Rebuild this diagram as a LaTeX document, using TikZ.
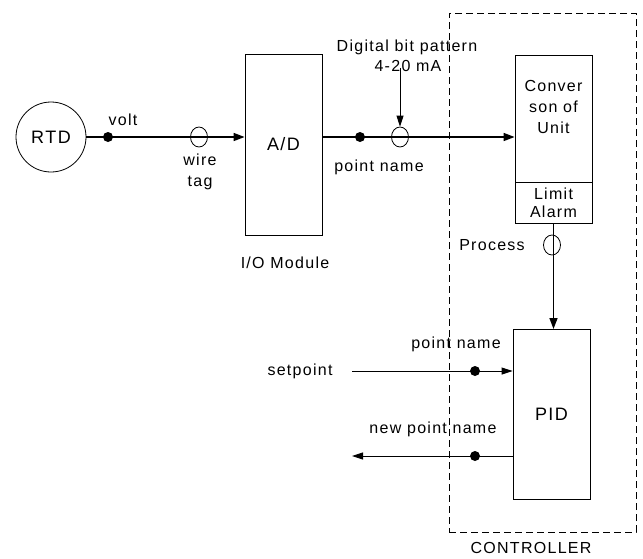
\documentclass[tikz,border=0pt]{standalone}
\usepackage{fontspec}
\setmainfont{Liberation Sans}[LetterSpace=8]
\usetikzlibrary{arrows.meta,shapes.geometric}
\begin{document}
\begin{tikzpicture}[x=1pt,y=-1pt,
  every node/.style={font=\fontsize{16}{18}\selectfont},
  big/.style={font=\fontsize{18}{20}\selectfont},
  lbl/.style={inner sep=0pt},
  blk/.style={draw,line width=0.8pt,minimum width=77pt,inner sep=0pt,align=center},
  dot/.style={circle,fill=black,minimum size=10pt,inner sep=0pt},
  tag/.style={ellipse,draw,line width=0.8pt,minimum width=17pt,minimum height=20pt,inner sep=0pt},
  main/.style={line width=1.5pt,-{Triangle[length=11pt,width=8pt]}},
  thin/.style={line width=0.9pt,-{Triangle[length=11pt,width=7pt]}},
  ctrl/.style={draw,line width=0.8pt,dash pattern=on 7pt off 4pt}]
\useasboundingbox (0,0) rectangle (643,558);
% controller frame
\node[ctrl,minimum width=187pt,minimum height=519pt,inner sep=0pt] (ctrlbox) at (542.5,272.5) {};
\node[lbl] (ctrllbl) at (531,548) {CONTROLLER};
% blocks
\node[circle,draw,line width=0.8pt,minimum size=70pt,inner sep=0pt,big] (rtd) at (51,137) {RTD};
\node[blk,minimum height=181pt,big] (ad) at (283.5,144.5) {A/D};
\node[lbl] (io) at (285,263) {I/O Module};
\node[blk,minimum height=127pt,anchor=north] (conv) at (553.5,55) {};
\node[lbl,align=center] (convtxt) at (553.5,107) {Conver\\[3pt]son of\\[3pt]Unit};
\node[blk,minimum height=41pt,anchor=north] (limit) at (553.5,182) {Limit\\[0pt]Alarm};
\node[blk,minimum height=170pt,anchor=north,big] (pid) at (551.5,329) {PID};
% markers and labels
\node[dot] (d1) at (108,137) {};
\node[lbl] (volt) at (123,120) {volt};
\node[tag] (t1) at (199,137) {};
\node[lbl,align=center] (wire) at (200,172) {wire\\[3pt]tag};
\node[dot] (d2) at (360,137) {};
\node[lbl] (pn1) at (379,167) {point name};
\node[tag] (t2) at (400,137) {};
\node[lbl] (dbp) at (407,47) {Digital bit pattern};
\node[lbl] (ma) at (408,66) {4-20 mA};
\node[tag] (t3) at (552,245) {};
\node[lbl] (proc) at (492,245) {Process};
\node[lbl] (sp) at (300,371) {setpoint};
\coordinate (spstart) at (352,371);
\node[dot] (d3) at (475,371) {};
\node[lbl] (pn2) at (456,344) {point name};
\node[lbl] (npn) at (433,429) {new point name};
\node[dot] (d4) at (475,456) {};
\coordinate (outend) at (352,456);
% connectors
\draw[main] (rtd.east) -- (ad.west |- rtd.east);
\draw[main] (ad.east |- rtd.east) -- (conv.west |- rtd.east);
\draw[thin] ([yshift=4pt]t2.north |- ma.south) -- (t2.north);
\draw[main] (limit.south) -- (pid.north -| limit.south);
\draw[thin] (spstart) -- (pid.west |- spstart);
\draw[thin] (pid.west |- outend) -- (outend);
\end{tikzpicture}
\end{document}
